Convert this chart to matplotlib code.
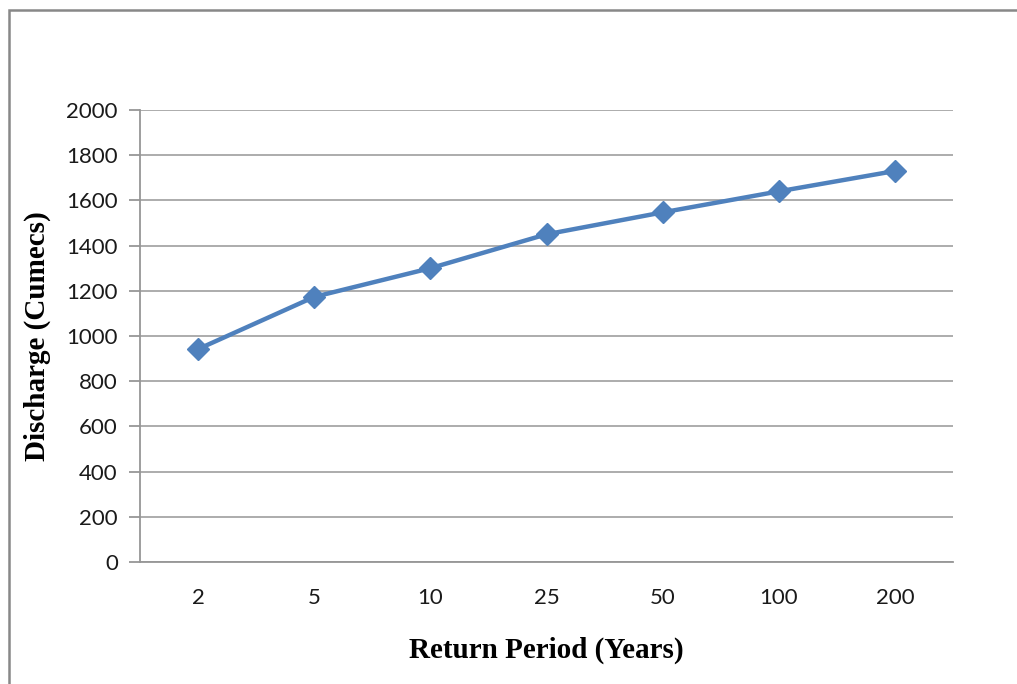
import matplotlib
matplotlib.use("Agg")
import matplotlib.pyplot as plt
from matplotlib.patches import Rectangle

# Flood frequency results
return_periods = ["2", "5", "10", "25", "50", "100", "200"]
discharge = [942, 1173, 1300, 1450, 1547, 1640, 1730]
y_ticks = [0, 200, 400, 600, 800, 1000, 1200, 1400, 1600, 1800, 2000]

W, H = 1017, 684
fig = plt.figure(figsize=(W / 100, H / 100), dpi=100)
fig.patch.set_facecolor("white")

# outer chart border (runs off the right and bottom edges)
fig.add_artist(Rectangle((9 / W, -0.2), 1.2, 1.2 - 10 / H,
                         transform=fig.transFigure, fill=False,
                         edgecolor="#888888", linewidth=1.8))

ax = fig.add_axes([140 / W, 1 - 562 / H, (953 - 140) / W, (562 - 110) / H])

x = list(range(len(return_periods)))
ax.plot(x, discharge, color="#4F81BD", linewidth=3.2, marker="D",
        markersize=11, markerfacecolor="#4F81BD", markeredgecolor="#4F81BD",
        zorder=3)

ax.set_xlim(-0.5, len(return_periods) - 0.5)
ax.set_ylim(0, 2000)
ax.set_yticks(y_ticks)
ax.set_xticks(x)
ax.set_xticklabels(return_periods)

for lbl in ax.get_xticklabels() + ax.get_yticklabels():
    lbl.set_fontfamily("Lato")
    lbl.set_fontsize(16)
    lbl.set_color("#1a1a1a")

ax.grid(axis="y", color="#a6a6a6", linewidth=1.3)
ax.set_axisbelow(True)
for side in ["top", "right"]:
    ax.spines[side].set_visible(False)
for side in ["left", "bottom"]:
    ax.spines[side].set_color("#969696")
    ax.spines[side].set_linewidth(1.3)

ax.tick_params(axis="y", length=8, width=1.3, color="#969696", pad=8)
ax.tick_params(axis="x", length=0, pad=19)

fig.text((140 + 953) / 2 / W, 1 - 650 / H, "Return Period (Years)",
         family="Liberation Serif", fontweight="bold", fontsize=21,
         ha="center", va="center")
fig.text(37 / W, 1 - 336 / H, "Discharge (Cumecs)",
         family="Liberation Serif", fontweight="bold", fontsize=21,
         ha="center", va="center", rotation=90)

fig.savefig("out.png", dpi=100, facecolor="white")
